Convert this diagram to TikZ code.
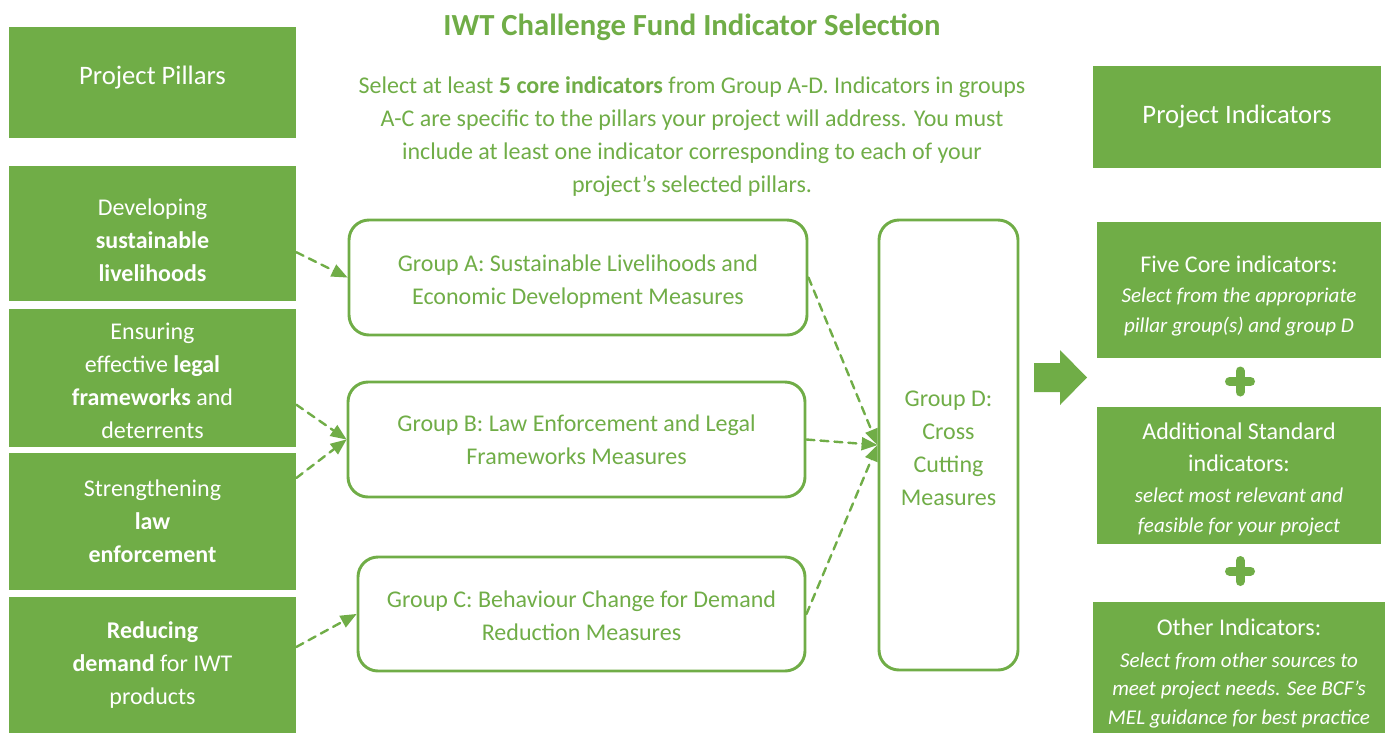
\documentclass[tikz,border=0pt]{standalone}
\usepackage{fontspec}
\setmainfont{Carlito}
\usepackage{tikz}
\usetikzlibrary{arrows}
\definecolor{iwtgreen}{rgb}{0.4392,0.6784,0.2784}
\newcommand{\note}[1]{{\fontsize{15.8}{22.5}\selectfont\itshape #1}}

\begin{document}
\begin{tikzpicture}[line cap=round,line join=round,>=triangle 45,x=0.75pt,y=-0.75pt,
  pillar/.style={fill=iwtgreen,text=white,align=center,inner sep=0pt,font=\fontsize{18}{24.75}\selectfont},
  indic/.style={fill=iwtgreen,text=white,align=center,inner sep=0pt,font=\fontsize{18}{22.5}\selectfont},
  group/.style={draw=iwtgreen,line width=2.2pt,rounded corners=15pt,text=iwtgreen,align=center,inner sep=0pt,font=\fontsize{18}{24.75}\selectfont},
  whitetext/.style={text=white,align=center,inner sep=0pt,font=\fontsize{18}{24.75}\selectfont},
  greentext/.style={text=iwtgreen,align=center,inner sep=0pt,font=\fontsize{18}{24.75}\selectfont},
  link/.style={->,draw=iwtgreen,line width=1.8pt,dash pattern=on 6pt off 4.5pt}]
\useasboundingbox (0,0) rectangle (1389,733);
% heading
\node[text=iwtgreen,font=\fontsize{23}{27}\selectfont\bfseries] (title) at (692,27) {IWT Challenge Fund Indicator Selection};
\node[text=iwtgreen,align=center,font=\fontsize{18}{24.75}\selectfont] (intro) at (692,137) {Select at least \textbf{5 core indicators} from Group A-D. Indicators in groups\\A-C are specific to the pillars your project will address. You must\\include at least one indicator corresponding to each of your\\project's selected pillars.};
% pillars
\node[pillar,minimum width=215.25pt,minimum height=83.25pt,label={[whitetext,font=\fontsize{20}{24}\selectfont,yshift=3.5pt]center:Project Pillars}] (pp) at (152.5,82.5) {};
\node[pillar,minimum width=215.25pt,minimum height=101.25pt,label={[whitetext,yshift=-5.25pt]center:{Developing\\\textbf{sustainable}\\\textbf{livelihoods}}}] (p1) at (152.5,233.5) {};
\node[pillar,minimum width=215.25pt,minimum height=103.5pt,label={[whitetext,yshift=-2.25pt]center:{Ensuring\\effective \textbf{legal}\\\textbf{frameworks} and\\deterrents}}] (p2) at (152.5,378) {};
\node[pillar,minimum width=215.25pt,minimum height=102.75pt] (p3) at (152.5,521.5) {Strengthening\\\textbf{law}\\\textbf{enforcement}};
\node[pillar,minimum width=215.25pt,minimum height=102pt] (p4) at (152.5,665) {\textbf{Reducing}\\\textbf{demand} for IWT\\products};
% groups
\node[group,minimum width=343.5pt,minimum height=86.25pt,label={[greentext,yshift=-3pt]center:{Group A: Sustainable Livelihoods and\\Economic Development Measures}}] (ga) at (578,277.5) {};
\node[group,minimum width=342.75pt,minimum height=86.25pt] (gb) at (576.5,439.5) {Group B: Law Enforcement and Legal\\Frameworks Measures};
\node[group,minimum width=335.25pt,minimum height=85.5pt,label={[greentext,yshift=-1.5pt]center:{Group C: Behaviour Change for Demand\\Reduction Measures}}] (gc) at (581.5,614) {};
\node[group,minimum width=104.25pt,minimum height=337.5pt,label={[greentext,yshift=-2.25pt]center:{Group D:\\Cross\\Cutting\\Measures}}] (gd) at (948.5,445) {};
% indicators
\node[pillar,minimum width=216pt,minimum height=76.5pt,font=\fontsize{20}{24}\selectfont] (pi) at (1237,117) {Project Indicators};
\node[indic,minimum width=213pt,minimum height=102pt,label={[whitetext,yshift=-4.5pt,font=\fontsize{18}{22.5}\selectfont]center:{Five Core indicators:\\\note{Select from the appropriate}\\\note{pillar group(s) and group D}}}] (r1) at (1239,290) {};
\node[indic,minimum width=213pt,minimum height=102.75pt,label={[whitetext,yshift=-3pt,font=\fontsize{18}{22.5}\selectfont]center:{Additional Standard\\[1pt]indicators:\\[1pt]\note{select most relevant and}\\\note{feasible for your project}}}] (r2) at (1239,475.5) {};
\node[indic,minimum width=219pt,minimum height=98.25pt,label={[whitetext,yshift=-4.5pt,font=\fontsize{18}{21.5}\selectfont]center:{Other Indicators:\\[2pt]\note{Select from other sources to}\\\note{meet project needs. See BCF's}\\\note{MEL guidance for best practice}}}] (r3) at (1239,667.5) {};
% connectors
\draw[link] ([yshift=-14pt]p1.east) -- (ga.west);
\draw[link] ([yshift=-20pt]p2.east) -- (gb.west);
\draw[link] ([yshift=32.6pt]p3.east) -- (gb.west);
\draw[link] ([yshift=13.5pt]p4.east) -- (gc.west);
\draw[link] (ga.east) -- (gd.west);
\draw[link] (gb.east) -- (gd.west);
\draw[link] (gc.east) -- (gd.west);
% big arrow and plus signs
\fill[iwtgreen] (1034,363) -- (1060,363) -- (1060,350) -- (1087,377.5) -- (1060,405) -- (1060,392) -- (1034,392) -- cycle;
\draw[iwtgreen,line width=6.75pt] (1229.5,381.5) -- (1250.5,381.5) (1240,371) -- (1240,392);
\draw[iwtgreen,line width=6.75pt] (1229.5,571) -- (1250.5,571) (1240,560.5) -- (1240,581.5);
\end{tikzpicture}
\end{document}
